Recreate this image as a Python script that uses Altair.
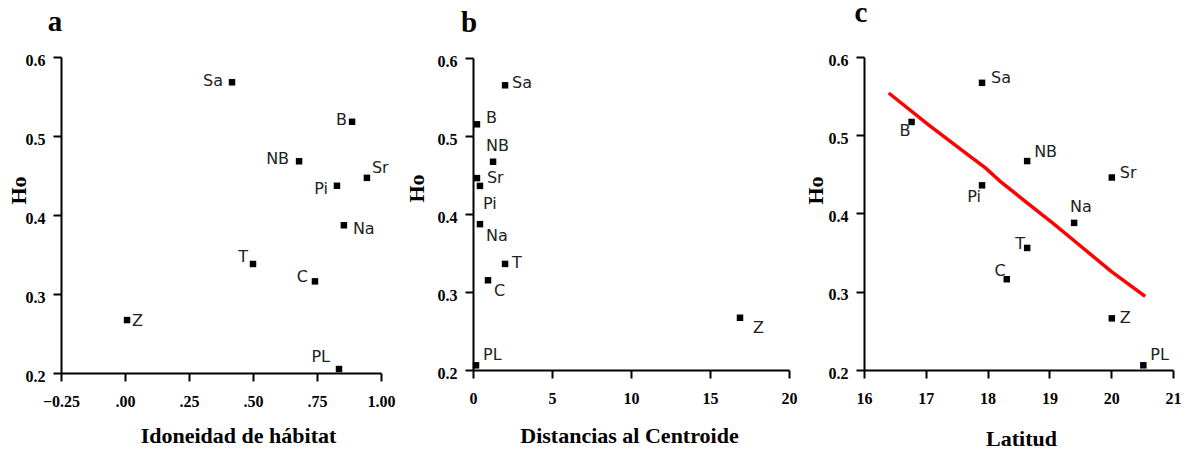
import altair as alt
import pandas as pd

# ---------------- data ----------------
pops = ["Sa", "B", "NB", "Sr", "Pi", "Na", "T", "C", "Z", "PL"]

# panel a: habitat suitability vs Ho
habitat = [0.418, 0.887, 0.680, 0.945, 0.828, 0.855, 0.500, 0.742, 0.008, 0.836]
ho_a = [0.568, 0.518, 0.468, 0.447, 0.437, 0.387, 0.338, 0.316, 0.267, 0.205]

# panel b: distance to centroid vs Ho
centroid = [2.03, 0.25, 1.27, 0.25, 0.44, 0.44, 2.03, 0.95, 16.9, 0.19]
ho_b = [0.565, 0.515, 0.467, 0.446, 0.436, 0.387, 0.336, 0.315, 0.267, 0.206]

# panel c: latitude vs Ho
latitud = [17.91, 16.77, 18.64, 20.01, 17.91, 19.40, 18.64, 18.31, 20.01, 20.52]
ho_c = [0.567, 0.517, 0.467, 0.446, 0.436, 0.388, 0.356, 0.316, 0.266, 0.206]

# red trend line in panel c
trend_lat = [16.40, 17.05, 17.70, 17.97, 18.22, 18.65, 19.05, 19.45, 20.00, 20.55]
trend_ho = [0.554, 0.513, 0.474, 0.458, 0.440, 0.413, 0.388, 0.362, 0.326, 0.294]

# tick values
ticks_a = [-0.25, 0.0, 0.25, 0.50, 0.75, 1.00]
ticks_b = [0, 5, 10, 15, 20]
ticks_c = [16, 17, 18, 19, 20, 21]
ticks_y = [0.2, 0.3, 0.4, 0.5, 0.6]

# label placement (align, dx, dy) per population
place_a = {"Sa": ("right", -9, -1), "B": ("right", -5, -2), "NB": ("right", -10, -2),
           "Sr": ("left", 5, -10), "Pi": ("right", -9, 3), "Na": ("left", 9, 4),
           "T": ("right", -5, -7), "C": ("right", -7, -4), "Z": ("left", 5, 1),
           "PL": ("right", -9, -12)}
place_b = {"Sa": ("left", 7, -2), "B": ("left", 9, -6), "NB": ("left", -7, -16),
           "Sr": ("left", 10, 0), "Pi": ("left", 3, 18), "Na": ("left", 6, 12),
           "T": ("left", 7, -1), "C": ("left", 6, 11), "Z": ("left", 13, 10),
           "PL": ("left", 7, -10)}
place_c = {"Sa": ("left", 9, -5), "B": ("right", -1, 9), "NB": ("left", 7, -9),
           "Sr": ("left", 8, -5), "Pi": ("right", -1, 12), "Na": ("left", -4, -16),
           "T": ("right", -2, -4), "C": ("right", -1, -8), "Z": ("left", 8, 0),
           "PL": ("left", 7, -10)}

SERIF = "Liberation Serif"
SANS = "DejaVu Sans"


def make_panel(df, xtitle, xdomain, xvals, xrange, yrange, xfmt, xoff, yoff,
               xtitle_xy, ytitle_xy, place, xlabel_expr=None, line_df=None):
    xaxis_kw = dict(title=xtitle, orient="bottom", values=xvals, format=xfmt,
                    offset=xoff, titleX=xtitle_xy[0], titleY=xtitle_xy[1],
                    titleBaseline="alphabetic", titleAlign="center",
                    tickSize=8, labelPadding=12, labelFlush=False,
                    labelOverlap=False, grid=False)
    if xlabel_expr:
        xaxis_kw["labelExpr"] = xlabel_expr
    X = alt.X("x:Q", scale=alt.Scale(domain=xdomain, range=xrange, nice=False, zero=False),
              axis=alt.Axis(**xaxis_kw))
    Y = alt.Y("ho:Q", scale=alt.Scale(domain=[0.2, 0.6], range=yrange, nice=False, zero=False),
              axis=alt.Axis(title="Ho", orient="left", values=ticks_y, format=".1f",
                            offset=yoff, titleX=ytitle_xy[0], titleY=ytitle_xy[1],
                            titleAngle=270, titleBaseline="alphabetic", titleAlign="center",
                            tickSize=8, labelPadding=8, labelOffset=3, labelFlush=False,
                            labelOverlap=False, grid=False))
    layers = []
    if line_df is not None:
        layers.append(alt.Chart(line_df).mark_line(color="#ff0000", strokeWidth=3.5)
                      .encode(x=X, y=Y))
    layers.append(alt.Chart(df).mark_square(size=42, color="black", opacity=1, filled=True)
                  .encode(x=X, y=Y))
    for name, (align, dx, dy) in place.items():
        layers.append(
            alt.Chart(df).transform_filter(alt.datum.pop == name)
            .mark_text(align=align, baseline="middle", dx=dx, dy=dy, font=SANS,
                       fontSize=16, color="#222222")
            .encode(x=X, y=Y, text="pop:N")
        )
    return alt.layer(*layers)


df_a = pd.DataFrame({"pop": pops, "x": habitat, "ho": ho_a})
df_b = pd.DataFrame({"pop": pops, "x": centroid, "ho": ho_b})
df_c = pd.DataFrame({"pop": pops, "x": latitud, "ho": ho_c})
df_line = pd.DataFrame({"x": trend_lat, "ho": trend_ho})

panel_a = make_panel(df_a, "Idoneidad de hábitat", [-0.25, 1.0], ticks_a, [53, 373], [365, 49],
                     ".2f", 0, -53, (230, 69), (-36, 182), place_a,
                     xlabel_expr="datum.value < 0 || datum.value >= 1 ? datum.label : replace(datum.label, '0.', '.')")
panel_b = make_panel(df_b, "Distancias al Centroide", [0, 20], ticks_b, [465, 781], [362, 50],
                     "d", -3, -465, (621, 72), (-50, 180), place_b)
panel_c = make_panel(df_c, "Latitud", [16, 21], ticks_c, [856, 1165], [362, 49],
                     "d", -3, -856, (1013, 75), (-42, 182), place_c, line_df=df_line)


def letter(t, x, y):
    return (alt.Chart(pd.DataFrame({"t": [t]}))
            .mark_text(font=SERIF, fontWeight="bold", fontSize=29, align="center",
                       baseline="alphabetic", color="black")
            .encode(text="t:N", x=alt.value(x), y=alt.value(y)))


chart = (
    alt.layer(panel_a, panel_b, panel_c,
              letter("a", 47, 23), letter("b", 461, 24), letter("c", 853, 14))
    .resolve_scale(x="independent", y="independent")
    .properties(width=1174, height=365, background="white",
                autosize=alt.AutoSizeParams(type="none"),
                padding={"left": 0, "top": 0, "right": 0, "bottom": 78})
    .configure_view(stroke=None)
    .configure_axis(domainColor="black", domainWidth=2, tickColor="black", tickWidth=2,
                    labelFont=SERIF, labelFontWeight="bold", labelFontSize=16,
                    labelColor="black", titleFont=SERIF, titleFontWeight="bold",
                    titleFontSize=22, titleColor="black")
)

chart.save("out.html", embed_options={"renderer": "svg", "actions": False})
